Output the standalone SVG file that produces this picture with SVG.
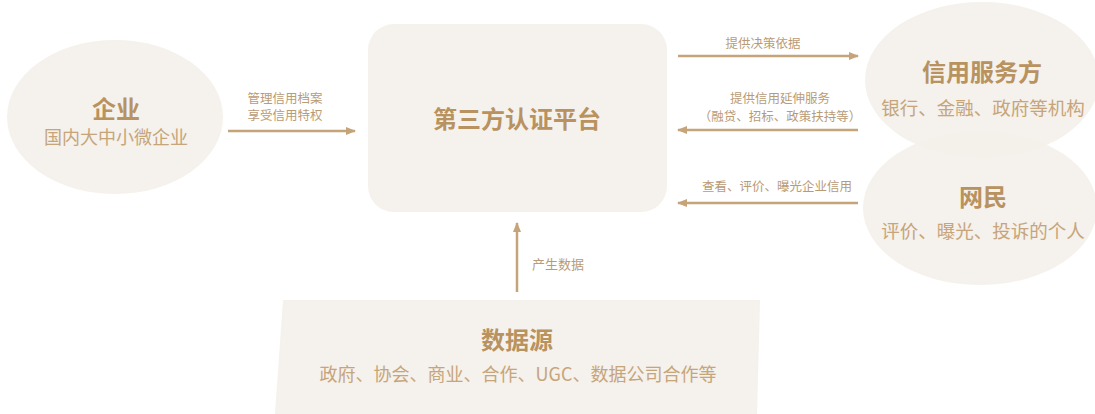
<svg xmlns="http://www.w3.org/2000/svg" width="1095" height="414" viewBox="0 0 1095 414">
<style>
.shape{fill:#f4f0ea;opacity:0.9}
.title{font-family:"Noto Sans CJK SC","Noto Sans",sans-serif;font-weight:bold;font-size:24px;fill:#b8925f;text-anchor:middle;dominant-baseline:central}
.sub{font-family:"Noto Sans CJK SC","Noto Sans",sans-serif;font-size:18px;fill:#c6a57a;text-anchor:middle;dominant-baseline:central}
.lbl{font-family:"Noto Sans CJK SC","Noto Sans",sans-serif;font-size:12.5px;fill:#b99b76;text-anchor:middle;dominant-baseline:central}
.conn{stroke:#c6a47a;stroke-width:2.5;fill:none;marker-end:url(#arr)}
</style>
<defs>
<marker id="arr" viewBox="0 0 10 10" refX="9" refY="5" markerWidth="4" markerHeight="4" orient="auto" markerUnits="strokeWidth">
<path d="M0,1 L10,5 L0,9 Z" fill="#c6a47a"/>
</marker>
</defs>
<rect width="1095" height="414" fill="#ffffff"/>
<g id="node-qiye">
<ellipse class="shape" cx="115" cy="117" rx="108" ry="77"/>
<text class="title" x="116" y="107">企业</text>
<text class="sub" x="116" y="136">国内大中小微企业</text>
</g>
<g id="node-platform">
<rect class="shape" x="368" y="24" width="299" height="188" rx="26" ry="26"/>
<text class="title" x="517" y="117">第三方认证平台</text>
</g>
<g id="node-xinyong">
<ellipse class="shape" cx="982" cy="80" rx="117" ry="78"/>
<text class="title" x="982" y="70">信用服务方</text>
<text class="sub" x="983" y="107" style="font-size:18.5px">银行、金融、政府等机构</text>
</g>
<g id="node-wangmin">
<ellipse class="shape" cx="980" cy="208" rx="117" ry="77"/>
<text class="title" x="983" y="195">网民</text>
<text class="sub" x="983" y="230" style="font-size:18.5px">评价、曝光、投诉的个人</text>
</g>
<g id="node-datasource">
<polygon class="shape" points="283,300 760,300 757,414 275,414"/>
<text class="title" x="517" y="338">数据源</text>
<text class="sub" x="518" y="373">政府、协会、商业、合作、UGC、数据公司合作等</text>
</g>
<g id="connectors">
<line class="conn" x1="228" y1="131" x2="355" y2="131"/>
<line class="conn" x1="678" y1="56" x2="858" y2="56"/>
<line class="conn" x1="858" y1="130" x2="678" y2="130"/>
<line class="conn" x1="858" y1="203" x2="678" y2="203"/>
<line class="conn" x1="517" y1="292" x2="517" y2="223"/>
<text class="lbl" x="285" y="97">管理信用档案</text>
<text class="lbl" x="285" y="114">享受信用特权</text>
<text class="lbl" x="763" y="42">提供决策依据</text>
<text class="lbl" x="780" y="97">提供信用延伸服务</text>
<text class="lbl" x="780" y="115">（融贷、招标、政策扶持等）</text>
<text class="lbl" x="777" y="185">查看、评价、曝光企业信用</text>
<text class="lbl" x="532" y="263" style="text-anchor:start;font-size:13px">产生数据</text>
</g>
</svg>
